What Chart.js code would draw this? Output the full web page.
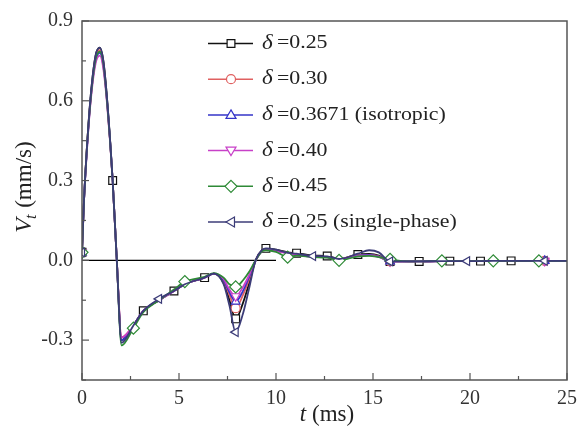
<!DOCTYPE html>
<html>
<head>
<meta charset="utf-8">
<script src="https://cdn.jsdelivr.net/npm/chart.js@4.4.1/dist/chart.umd.min.js"></script>
<style>
  body { margin: 0; background: #fff; }
  canvas { display: block; }
</style>
</head>
<body>
<canvas id="grafica" width="584" height="430"></canvas>
<script>
// tiempos (ms) compartidos por todas las curvas
const tiempos = [0, 0.1, 0.25, 0.45, 0.7, 0.92, 1.1, 1.3, 1.58, 1.78, 2.04, 2.65, 3.16, 3.97, 4.74, 5.3, 6.32, 6.8, 7.3, 7.6, 7.92, 8.3, 8.6, 8.95, 9.3, 9.48, 10.0, 10.6, 11.06, 11.91, 12.64, 13.25, 14.22, 14.8, 15.3, 15.88, 16.5, 17.38, 18.55, 18.96, 19.85, 20.54, 21.2, 22.12, 23.55, 23.85, 25];

const v025 = [0.03, 0.22, 0.42, 0.62, 0.77, 0.80, 0.75, 0.60, 0.30, 0.02, -0.30, -0.245, -0.19, -0.15, -0.115, -0.09, -0.065, -0.05, -0.085, -0.15, -0.22, -0.16, -0.09, 0.0, 0.04, 0.045, 0.04, 0.03, 0.027, 0.018, 0.016, 0.006, 0.022, 0.024, 0.018, -0.004, -0.004, -0.004, -0.003, -0.003, -0.003, -0.003, -0.002, -0.002, -0.002, -0.002, -0.002];
const v030 = [0.03, 0.22, 0.42, 0.61, 0.76, 0.79, 0.74, 0.59, 0.30, 0.02, -0.29, -0.245, -0.19, -0.15, -0.115, -0.09, -0.065, -0.05, -0.08, -0.13, -0.18, -0.13, -0.075, 0.0, 0.038, 0.042, 0.037, 0.028, 0.022, 0.015, 0.012, 0.004, 0.02, 0.02, 0.015, -0.004, -0.004, -0.004, -0.003, -0.003, -0.003, -0.003, -0.002, -0.002, -0.002, -0.002, -0.002];
const vIso = [0.03, 0.22, 0.41, 0.61, 0.75, 0.78, 0.73, 0.59, 0.30, 0.02, -0.30, -0.245, -0.19, -0.15, -0.115, -0.09, -0.065, -0.05, -0.075, -0.12, -0.155, -0.115, -0.065, 0.0, 0.037, 0.041, 0.036, 0.027, 0.021, 0.014, 0.012, 0.004, 0.018, 0.02, 0.014, -0.004, -0.004, -0.004, -0.003, -0.003, -0.003, -0.003, -0.002, -0.002, -0.002, -0.002, -0.002];
const v040 = [0.03, 0.22, 0.41, 0.60, 0.74, 0.77, 0.72, 0.58, 0.30, 0.02, -0.29, -0.245, -0.19, -0.15, -0.115, -0.09, -0.065, -0.05, -0.07, -0.11, -0.135, -0.10, -0.058, 0.0, 0.036, 0.04, 0.035, 0.026, 0.02, 0.014, 0.011, 0.004, 0.017, 0.019, 0.013, -0.004, -0.004, -0.004, -0.003, -0.003, -0.003, -0.003, -0.002, -0.002, -0.002, -0.002, -0.002];
const v045 = [0.03, 0.22, 0.42, 0.61, 0.755, 0.785, 0.74, 0.59, 0.30, 0.02, -0.32, -0.255, -0.195, -0.15, -0.11, -0.08, -0.062, -0.048, -0.065, -0.09, -0.10, -0.075, -0.045, 0.0, 0.035, 0.038, 0.032, 0.012, 0.018, 0.012, 0.01, 0.0, 0.015, 0.017, 0.012, 0.004, -0.003, -0.004, -0.002, -0.003, -0.003, -0.003, -0.002, -0.002, -0.002, -0.002, -0.002];
const vSingle = [0.03, 0.22, 0.42, 0.62, 0.77, 0.80, 0.75, 0.60, 0.30, 0.02, -0.31, -0.245, -0.19, -0.145, -0.115, -0.09, -0.065, -0.05, -0.09, -0.17, -0.27, -0.20, -0.11, 0.0, 0.04, 0.045, 0.04, 0.028, 0.025, 0.016, 0.015, 0.005, 0.025, 0.038, 0.03, -0.004, -0.004, -0.004, -0.003, -0.003, -0.003, -0.003, -0.002, -0.002, -0.002, -0.002, -0.002];

// donde van los marcadores de cada curva
const marcasCuadro = [0, 1.58, 3.16, 4.74, 6.32, 7.92, 9.48, 11.06, 12.64, 14.22, 15.88, 17.38, 18.96, 20.54, 22.12];
const marcasRombo = [0, 2.65, 5.3, 7.92, 10.6, 13.25, 15.88, 18.55, 21.2, 23.55];
const marcasIzq = [0, 3.97, 7.92, 11.91, 15.88, 19.85, 23.85];
const marcasPocas = [0, 7.92, 15.88, 23.85];

const etiquetas = ["=0.25", "=0.30", "=0.3671 (isotropic)", "=0.40", "=0.45", "=0.25 (single-phase)"];
const ticksX = [0, 5, 10, 15, 20, 25];
const ticksY = [-0.3, 0.0, 0.3, 0.6, 0.9];
const lineaCero = [0, 10];

const series = [
    { valores: v025, color: "#111111", estilo: "rect", rot: 0, radio: 5.5, marcas: marcasCuadro },
    { valores: v030, color: "#e06060", estilo: "circle", rot: 0, radio: 4.5, marcas: marcasPocas },
    { valores: vIso, color: "#3434c8", estilo: "triangle", rot: 0, radio: 5, marcas: marcasPocas },
    { valores: v040, color: "#c840c8", estilo: "triangle", rot: 180, radio: 5, marcas: marcasPocas },
    { valores: v045, color: "#2e8a36", estilo: "rectRot", rot: 0, radio: 6, marcas: marcasRombo },
    { valores: vSingle, color: "#3c3c78", estilo: "triangle", rot: 270, radio: 5, marcas: marcasIzq }
];

const fuente = "'Liberation Serif', 'Times New Roman', serif";

const datasets = series.map((s, i) => ({
    data: tiempos.map((t, k) => ({ x: t, y: s.valores[k] })),
    borderColor: s.color,
    borderWidth: 1.8,
    backgroundColor: "#ffffff",
    pointBorderColor: s.color,
    pointBackgroundColor: "#ffffff",
    pointBorderWidth: 1.2,
    pointStyle: s.estilo,
    pointRotation: s.rot,
    pointRadius: ctx => s.marcas.includes(tiempos[ctx.dataIndex]) ? s.radio : 0,
    cubicInterpolationMode: "monotone",
    order: 6 - i
}));

datasets.push({
    data: lineaCero.map(t => ({ x: t, y: 0 })),
    borderColor: "#000000",
    borderWidth: 1.2,
    pointRadius: 0,
    order: 10
});

function dibujarMarca(ctx, estilo, rot, r, x, y, color) {
    ctx.save();
    ctx.translate(x, y);
    ctx.rotate(rot * Math.PI / 180);
    ctx.beginPath();
    if (estilo === "rect") {
        const l = r * Math.SQRT1_2;
        ctx.rect(-l, -l, l * 2, l * 2);
    } else if (estilo === "circle") {
        ctx.arc(0, 0, r, 0, Math.PI * 2);
    } else if (estilo === "rectRot") {
        ctx.moveTo(0, -r); ctx.lineTo(r, 0); ctx.lineTo(0, r); ctx.lineTo(-r, 0); ctx.closePath();
    } else {
        const h = r * 1.5;
        ctx.moveTo(0, -h * 0.67); ctx.lineTo(r, h * 0.33 + 1); ctx.lineTo(-r, h * 0.33 + 1); ctx.closePath();
    }
    ctx.fillStyle = "#fff";
    ctx.fill();
    ctx.strokeStyle = color;
    ctx.lineWidth = 1.2;
    ctx.stroke();
    ctx.restore();
}

const marcoYLeyenda = {
    id: "marcoYLeyenda",
    afterDatasetsDraw(chart) {
        const { ctx, chartArea: a, scales } = chart;
        ctx.save();
        ctx.strokeStyle = "#555";
        ctx.lineWidth = 1.5;
        ctx.strokeRect(a.left, a.top, a.right - a.left, a.bottom - a.top);
        // marcas hacia adentro
        ctx.lineWidth = 1.2;
        for (let v = 0; v <= 25; v += 2.5) {
            const x = scales.x.getPixelForValue(v);
            const largo = v % 5 === 0 ? 7 : 4;
            ctx.beginPath(); ctx.moveTo(x, a.bottom); ctx.lineTo(x, a.bottom - largo); ctx.stroke();
        }
        for (let k = -3; k <= 6; k++) {
            const v = k * 0.15;
            const y = scales.y.getPixelForValue(v);
            const largo = k % 2 === 0 ? 7 : 4;
            ctx.beginPath(); ctx.moveTo(a.left, y); ctx.lineTo(a.left + largo, y); ctx.stroke();
        }
        ctx.restore();
    },
    afterDraw(chart) {
        const ctx = chart.ctx;
        ctx.save();
        // leyenda
        series.forEach((s, i) => {
            const y = 43.5 + i * 35.7;
            ctx.strokeStyle = s.color;
            ctx.lineWidth = 1.5;
            ctx.beginPath(); ctx.moveTo(208, y); ctx.lineTo(253, y); ctx.stroke();
            dibujarMarca(ctx, s.estilo, s.rot, s.radio, 231, y, s.color);
            ctx.save();
            ctx.translate(262, y);
            ctx.scale(1.15, 1);
            ctx.fillStyle = "#222";
            ctx.textBaseline = "middle";
            ctx.font = "italic 20px " + fuente;
            ctx.fillText("δ", 0, 0);
            ctx.font = "19px " + fuente;
            ctx.fillText(etiquetas[i], 13, 0);
            ctx.restore();
        });

        // titulo eje x
        ctx.fillStyle = "#222";
        ctx.textBaseline = "alphabetic";
        ctx.font = "italic 23px " + fuente;
        const wt = ctx.measureText("t").width;
        ctx.font = "23px " + fuente;
        const wr = ctx.measureText(" (ms)").width;
        let x0 = 327 - (wt + wr) / 2;
        ctx.font = "italic 23px " + fuente;
        ctx.fillText("t", x0, 421);
        ctx.font = "23px " + fuente;
        ctx.fillText(" (ms)", x0 + wt, 421);

        // titulo eje y
        ctx.translate(31, 187);
        ctx.rotate(-Math.PI / 2);
        ctx.font = "italic 24px " + fuente;
        const wv = ctx.measureText("V").width;
        ctx.font = "italic 16px " + fuente;
        const ws = ctx.measureText("t").width;
        ctx.font = "23px " + fuente;
        const wm = ctx.measureText(" (mm/s)").width;
        x0 = -(wv + ws + wm) / 2;
        ctx.font = "italic 24px " + fuente;
        ctx.fillText("V", x0, 0);
        ctx.font = "italic 16px " + fuente;
        ctx.fillText("t", x0 + wv - 1, 5);
        ctx.font = "23px " + fuente;
        ctx.fillText(" (mm/s)", x0 + wv + ws, 0);
        ctx.restore();
    }
};

new Chart(document.getElementById("grafica"), {
    type: "line",
    data: { datasets },
    options: {
        responsive: false,
        animation: false,
        layout: { padding: { top: 19, right: 12, left: 0, bottom: 0 } },
        plugins: { legend: { display: false }, tooltip: { enabled: false } },
        scales: {
            x: {
                type: "linear",
                min: 0,
                max: 25,
                afterBuildTicks: s => { s.ticks = ticksX.map(v => ({ value: v })); },
                ticks: { font: { family: fuente, size: 20 }, color: "#333", padding: 7, maxRotation: 0 },
                grid: { display: false, drawTicks: false },
                border: { display: false },
                afterFit: s => { s.height = 50; }
            },
            y: {
                min: -0.45,
                max: 0.9,
                afterBuildTicks: s => { s.ticks = ticksY.map(v => ({ value: v })); },
                ticks: { font: { family: fuente, size: 20 }, color: "#333", padding: 9, callback: v => v.toFixed(1) },
                grid: { display: false, drawTicks: false },
                border: { display: false },
                afterFit: s => { s.width = 82; }
            }
        }
    },
    plugins: [marcoYLeyenda]
});
</script>
</body>
</html>
